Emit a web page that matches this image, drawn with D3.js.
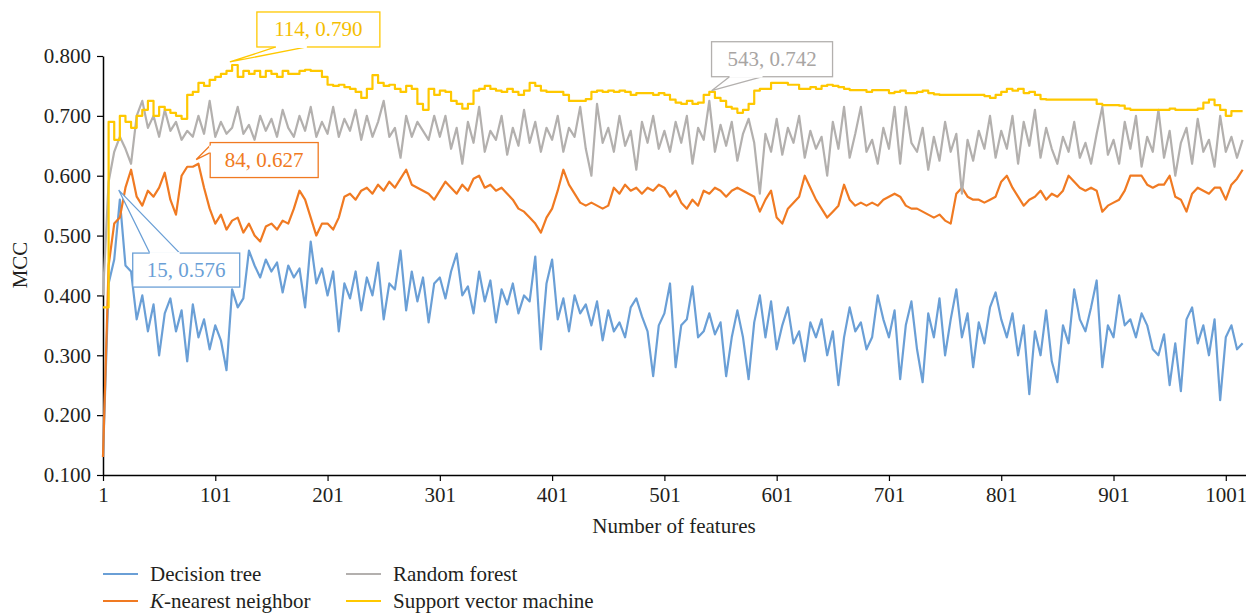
<!DOCTYPE html>
<html><head><meta charset="utf-8">
<script src="https://cdn.jsdelivr.net/npm/d3@7/dist/d3.min.js"></script>
<style>body{margin:0;background:#fff}svg{display:block}text{font-family:"Liberation Serif","DejaVu Serif",serif}</style>
</head><body><svg id="c" width="1246" height="614"></svg>
<script>
// sampled every 5 features: 1, 6, 11, ... 1016
const featureStart = 1, featureStep = 5;
const xTicks = [1,101,201,301,401,501,601,701,801,901,1001];
const yTicks = [0.1,0.2,0.3,0.4,0.5,0.6,0.7,0.8];
const seriesNames = ["Decision tree","K-nearest neighbor","Random forest","Support vector machine"];
const seriesColors = ["#6A9FD6","#F07A22","#B3B0AE","#FFC800"];

const decisionTree = [
0.13,0.42,0.46,0.56,0.45,0.44,0.36,0.40,0.34,0.385,0.30,0.37,0.395,0.34,0.375,0.29,0.385,0.33,0.36,0.31,
0.35,0.325,0.275,0.41,0.38,0.395,0.475,0.45,0.43,0.46,0.44,0.455,0.405,0.45,0.43,0.445,0.38,0.49,0.42,0.445,
0.40,0.44,0.34,0.42,0.395,0.44,0.375,0.43,0.40,0.455,0.36,0.42,0.41,0.475,0.375,0.44,0.39,0.43,0.355,0.42,
0.43,0.395,0.44,0.47,0.40,0.415,0.37,0.44,0.39,0.425,0.355,0.41,0.385,0.42,0.37,0.40,0.39,0.465,0.31,0.42,
0.46,0.36,0.395,0.34,0.40,0.37,0.385,0.35,0.39,0.325,0.375,0.34,0.355,0.33,0.38,0.395,0.365,0.34,0.265,0.35,
0.37,0.42,0.28,0.35,0.36,0.415,0.33,0.34,0.37,0.335,0.355,0.265,0.33,0.375,0.33,0.26,0.355,0.40,0.33,0.39,
0.31,0.35,0.38,0.32,0.34,0.29,0.355,0.33,0.36,0.30,0.34,0.25,0.33,0.38,0.34,0.355,0.31,0.33,0.40,0.36,
0.33,0.375,0.26,0.35,0.39,0.31,0.255,0.37,0.33,0.395,0.30,0.36,0.41,0.33,0.37,0.28,0.355,0.32,0.38,0.405,
0.36,0.33,0.37,0.30,0.35,0.235,0.34,0.30,0.375,0.29,0.255,0.35,0.32,0.41,0.36,0.34,0.38,0.425,0.28,0.35,
0.33,0.40,0.35,0.36,0.33,0.37,0.35,0.31,0.30,0.335,0.25,0.32,0.24,0.36,0.38,0.32,0.35,0.30,0.36,0.225,
0.33,0.35,0.31,0.32];

const kNearest = [
0.13,0.45,0.52,0.53,0.58,0.61,0.565,0.55,0.575,0.565,0.58,0.605,0.56,0.535,0.60,0.615,0.615,0.62,0.58,0.545,
0.52,0.535,0.51,0.525,0.53,0.505,0.52,0.50,0.49,0.515,0.52,0.51,0.525,0.52,0.545,0.575,0.56,0.53,0.50,0.52,
0.52,0.51,0.53,0.565,0.57,0.56,0.575,0.58,0.57,0.585,0.575,0.59,0.58,0.595,0.61,0.585,0.58,0.575,0.57,0.56,
0.575,0.59,0.58,0.57,0.585,0.575,0.595,0.60,0.58,0.585,0.575,0.58,0.57,0.56,0.545,0.54,0.53,0.52,0.505,0.53,
0.545,0.575,0.61,0.585,0.57,0.555,0.55,0.555,0.55,0.545,0.55,0.58,0.57,0.585,0.575,0.58,0.57,0.58,0.575,0.585,
0.58,0.565,0.575,0.555,0.545,0.56,0.55,0.575,0.57,0.58,0.575,0.565,0.575,0.58,0.575,0.57,0.565,0.54,0.56,0.575,
0.53,0.52,0.545,0.555,0.565,0.60,0.58,0.56,0.545,0.53,0.54,0.55,0.585,0.56,0.55,0.555,0.55,0.555,0.55,0.56,
0.565,0.57,0.565,0.55,0.545,0.545,0.54,0.535,0.53,0.535,0.525,0.52,0.57,0.58,0.565,0.56,0.56,0.555,0.56,0.565,
0.59,0.60,0.58,0.565,0.55,0.56,0.565,0.575,0.56,0.57,0.565,0.575,0.60,0.59,0.58,0.575,0.58,0.575,0.54,0.55,
0.555,0.56,0.575,0.60,0.60,0.60,0.585,0.58,0.585,0.585,0.60,0.565,0.56,0.54,0.57,0.58,0.575,0.57,0.58,0.58,
0.56,0.585,0.595,0.61];

const randomForest = [
0.40,0.59,0.64,0.665,0.645,0.62,0.70,0.725,0.68,0.70,0.665,0.71,0.675,0.69,0.66,0.675,0.665,0.70,0.67,0.725,
0.665,0.69,0.67,0.68,0.715,0.67,0.685,0.66,0.70,0.675,0.695,0.665,0.71,0.68,0.665,0.70,0.675,0.715,0.665,0.69,
0.67,0.715,0.665,0.695,0.675,0.71,0.66,0.70,0.665,0.69,0.725,0.665,0.68,0.63,0.70,0.665,0.69,0.675,0.66,0.70,
0.665,0.70,0.645,0.68,0.62,0.69,0.655,0.715,0.64,0.675,0.66,0.70,0.635,0.68,0.65,0.71,0.655,0.69,0.64,0.68,
0.66,0.70,0.64,0.68,0.665,0.715,0.645,0.60,0.72,0.655,0.68,0.64,0.70,0.65,0.675,0.61,0.69,0.655,0.70,0.645,
0.675,0.64,0.69,0.655,0.70,0.62,0.68,0.66,0.725,0.64,0.685,0.65,0.69,0.625,0.67,0.695,0.655,0.57,0.67,0.64,
0.695,0.635,0.68,0.655,0.70,0.63,0.675,0.645,0.665,0.60,0.69,0.645,0.715,0.63,0.67,0.715,0.64,0.66,0.62,0.68,
0.645,0.715,0.62,0.715,0.655,0.64,0.68,0.61,0.665,0.625,0.69,0.64,0.67,0.57,0.66,0.625,0.675,0.645,0.70,0.63,
0.675,0.645,0.70,0.62,0.69,0.65,0.71,0.63,0.68,0.645,0.62,0.665,0.64,0.69,0.63,0.655,0.62,0.67,0.715,0.635,
0.66,0.62,0.69,0.645,0.70,0.615,0.665,0.64,0.71,0.63,0.675,0.60,0.655,0.68,0.62,0.695,0.64,0.66,0.615,0.70,
0.64,0.665,0.63,0.66];

const supportVector = [
0.38,0.69,0.66,0.70,0.69,0.68,0.70,0.71,0.725,0.70,0.715,0.71,0.705,0.70,0.695,0.735,0.74,0.755,0.75,0.76,
0.765,0.77,0.775,0.785,0.765,0.775,0.77,0.775,0.765,0.775,0.77,0.765,0.775,0.77,0.77,0.775,0.777,0.775,0.775,0.765,
0.752,0.75,0.752,0.748,0.745,0.74,0.73,0.745,0.768,0.755,0.75,0.752,0.745,0.74,0.75,0.745,0.72,0.71,0.745,0.735,
0.742,0.74,0.725,0.72,0.712,0.72,0.742,0.745,0.75,0.745,0.742,0.74,0.745,0.74,0.735,0.742,0.755,0.75,0.742,0.74,
0.74,0.74,0.735,0.725,0.725,0.725,0.728,0.74,0.742,0.74,0.742,0.74,0.742,0.74,0.735,0.738,0.738,0.738,0.735,0.738,
0.735,0.727,0.722,0.72,0.725,0.72,0.722,0.735,0.74,0.73,0.725,0.715,0.712,0.705,0.71,0.72,0.742,0.745,0.745,0.755,
0.755,0.755,0.752,0.752,0.745,0.745,0.748,0.745,0.75,0.752,0.75,0.748,0.745,0.743,0.743,0.743,0.74,0.743,0.743,0.743,
0.738,0.74,0.742,0.738,0.738,0.74,0.742,0.738,0.736,0.735,0.735,0.735,0.735,0.735,0.735,0.735,0.735,0.733,0.73,0.735,
0.74,0.745,0.742,0.745,0.738,0.74,0.735,0.728,0.727,0.727,0.727,0.727,0.727,0.727,0.727,0.727,0.727,0.72,0.718,0.718,
0.718,0.717,0.712,0.71,0.71,0.71,0.71,0.71,0.71,0.71,0.712,0.71,0.71,0.71,0.71,0.712,0.722,0.727,0.718,0.71,
0.70,0.708,0.708,0.708];

// annotated maxima: [feature, MCC, series index]
const annotations = [[15,0.576,0],[84,0.627,1],[543,0.742,2],[114,0.790,3]];

const FS = "21px";
const svg = d3.select("#c");
const x = d3.scaleLinear().domain([1,1019]).range([103,1246]);
const y = d3.scaleLinear().domain([0.1,0.8]).range([475,56]);

// axes
const yAxis = d3.axisLeft(y).tickValues(yTicks).tickFormat(d3.format(".3f")).tickSize(6).tickSizeOuter(0);
const gy = svg.append("g").attr("transform","translate(103,0)").call(yAxis);
const xAxis = d3.axisBottom(x).tickValues(xTicks).tickFormat(d3.format("d")).tickSize(6).tickSizeOuter(0);
const gx = svg.append("g").attr("transform","translate(0,475)").call(xAxis);
[gx,gy].forEach(g=>{
  g.select(".domain").attr("stroke","#000").attr("stroke-width",1.5);
  g.selectAll(".tick line").attr("stroke","#000").attr("stroke-width",1.2);
  g.selectAll(".tick text").attr("fill","#231f20").style("font-size",FS).style("font-family",'"Liberation Serif",serif');
});
gy.selectAll(".tick text").attr("x",-12);
gx.selectAll(".tick text").attr("y",12);

svg.append("text").attr("x",674).attr("y",533).attr("text-anchor","middle")
  .style("font-size",FS).attr("fill","#231f20").text("Number of features");
svg.append("text").attr("transform","translate(27,265) rotate(-90)").attr("text-anchor","middle")
  .style("font-size",FS).attr("fill","#231f20").text("MCC");

const allSeries = [decisionTree,kNearest,randomForest,supportVector];
const plot = svg.append("g");
allSeries.forEach((vals,i)=>{
  const pts = vals.map((v,k)=>[featureStart+k*featureStep, v]);
  const line = d3.line().x(d=>x(d[0])).y(d=>y(d[1]))
    .curve(i===3 ? d3.curveStepAfter : d3.curveLinear);
  plot.append("path").datum(pts).attr("d",line).attr("fill","none")
    .attr("stroke",seriesColors[i]).attr("stroke-width",2.2).attr("stroke-linejoin","round");
});

// callouts
const textColors = ["#6A9FD6","#F07A22","#A8A5A3","#F5BE00"];
const boxes = [
  {w:107,h:34, dx:14, dy:63, wedge:"top", a:32, b:62},
  {w:108,h:35, dx:14, dy:-17, wedge:"left", a:3, b:10},
  {w:121,h:35, dx:0, dy:-49, wedge:"bottom", a:18, b:51},
  {w:123,h:35, dx:27, dy:-50, wedge:"bottom", a:19, b:50}
];
annotations.forEach((a,i)=>{
  const px = x(a[0]), py = y(a[1]);
  const bx = boxes[i];
  const c = seriesColors[a[2]];
  const left = px + bx.dx, top = py + bx.dy;
  const g = svg.append("g");
  let poly;
  if (bx.wedge==="top") poly = [[left+bx.a-15,top],[px,py],[left+bx.b-15,top]];
  if (bx.wedge==="bottom") poly = [[left+bx.a,top+bx.h],[px,py],[left+bx.b,top+bx.h]];
  if (bx.wedge==="left") poly = [[left,top+bx.a],[px,py],[left,top+bx.b]];
  g.append("path").attr("d","M"+poly.map(p=>p.join(",")).join("L")).attr("fill","#fff")
    .attr("stroke",c).attr("stroke-width",1.3);
  g.append("rect").attr("x",left).attr("y",top).attr("width",bx.w).attr("height",bx.h)
    .attr("fill","#fff").attr("stroke",c).attr("stroke-width",1.3);
  if (bx.wedge==="top") g.append("line").attr("x1",left+bx.a-15).attr("x2",left+bx.b-15).attr("y1",top).attr("y2",top).attr("stroke","#fff").attr("stroke-width",2);
  if (bx.wedge==="bottom") g.append("line").attr("x1",left+bx.a).attr("x2",left+bx.b).attr("y1",top+bx.h).attr("y2",top+bx.h).attr("stroke","#fff").attr("stroke-width",2);
  if (bx.wedge==="left") g.append("line").attr("x1",left).attr("x2",left).attr("y1",top+bx.a).attr("y2",top+bx.b).attr("stroke","#fff").attr("stroke-width",2);
  g.append("text").attr("x",left+bx.w/2).attr("y",top+bx.h/2+7).attr("text-anchor","middle")
    .style("font-size",FS).attr("fill",textColors[a[2]]).text(a[0]+", "+a[1].toFixed(3));
});

// legend
const legendPos = [[103,574],[103,601],[346,574],[346,601]];
seriesNames.forEach((n,i)=>{
  const [lx,ly] = legendPos[i];
  svg.append("line").attr("x1",lx).attr("x2",lx+35).attr("y1",ly).attr("y2",ly)
    .attr("stroke",seriesColors[i]).attr("stroke-width",2);
  const t = svg.append("text").attr("x",lx+47).attr("y",ly+7).style("font-size",FS).attr("fill","#231f20");
  if (n.startsWith("K-")) {
    t.append("tspan").style("font-style","italic").text("K");
    t.append("tspan").text(n.slice(1));
  } else t.text(n);
});
</script></body></html>
